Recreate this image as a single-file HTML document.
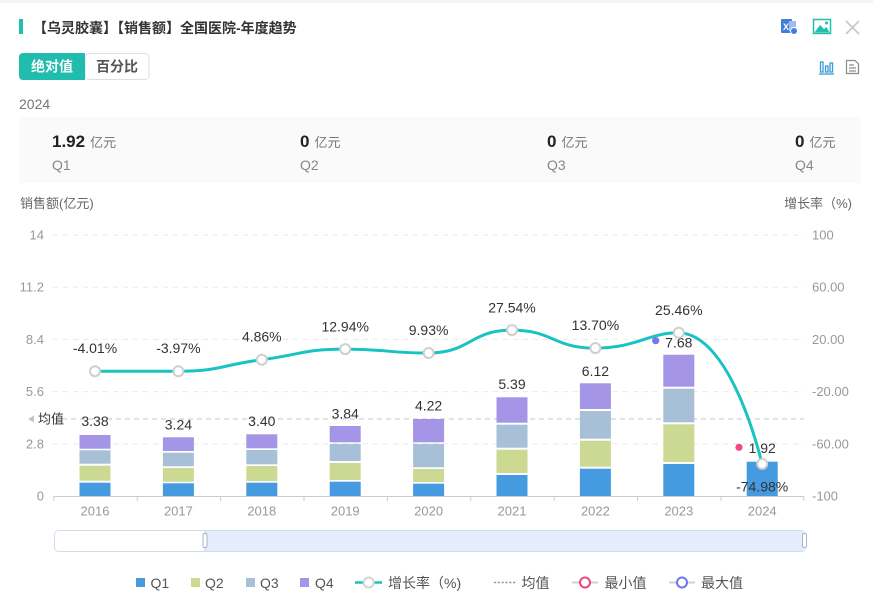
<!DOCTYPE html>
<html>
<head>
<meta charset="utf-8">
<style>
html,body{margin:0;padding:0;background:#fff;}
body{width:873px;height:607px;overflow:hidden;position:relative;font-family:"Liberation Sans","Noto Sans CJK SC",sans-serif;}
svg{position:absolute;left:0;top:0;}
text{font-family:"Liberation Sans","Noto Sans CJK SC",sans-serif;}
</style>
</head>
<body>
<svg width="873" height="607" viewBox="0 0 873 607" xmlns="http://www.w3.org/2000/svg">
  <!-- top strip -->
  <rect x="0" y="0" width="873" height="3" fill="#f4f5f7"/>
  <!-- title -->
  <rect x="19" y="19" width="4" height="15" fill="#20bfae"/>
  <text x="33" y="33" font-size="14" font-weight="bold" fill="#333">【乌灵胶囊】【销售额】全国医院-年度趋势</text>

  <!-- top-right icons -->
  <g>
    <rect x="781" y="19" width="11" height="14" rx="1" fill="#3f7fdc"/>
    <rect x="789" y="21" width="7" height="10" fill="#a9b8f0"/>
    <text x="783" y="30" font-size="9" font-weight="bold" fill="#fff">X</text>
    <circle cx="794" cy="31" r="3.5" fill="#3f7fdc" stroke="#fff" stroke-width="1"/>
  </g>
  <g>
    <rect x="813.5" y="19.5" width="17" height="14" fill="#fff" stroke="#20bfae" stroke-width="1.5"/>
    <path d="M814.5 32.5 L820 25 L824 29 L826.5 27 L829.5 32.5 Z" fill="#20bfae"/>
    <circle cx="826.5" cy="23" r="1.5" fill="#20bfae"/>
  </g>
  <path d="M846 21 L859 34 M859 21 L846 34" stroke="#c8c8c8" stroke-width="1.6"/>
  <g stroke="#3a9bd5" stroke-width="1.3" fill="none">
    <rect x="820.5" y="62" width="2.5" height="10"/>
    <rect x="825.5" y="66" width="2.5" height="6"/>
    <rect x="830" y="63" width="2.5" height="9"/>
    <line x1="819" y1="74" x2="834" y2="74"/>
  </g>
  <g stroke="#8a8a8a" stroke-width="1.2" fill="none">
    <path d="M846.5 60.5 H855 L858.5 64 V73.5 H846.5 Z"/>
    <line x1="849" y1="65" x2="854" y2="65"/>
    <line x1="849" y1="68" x2="856" y2="68"/>
    <line x1="849" y1="71" x2="856" y2="71"/>
  </g>

  <!-- toggle buttons -->
  <rect x="85" y="53.5" width="64" height="26" rx="4" fill="#fff" stroke="#dcdfe6" stroke-width="1"/>
  <path d="M23 53 H85 V80 H23 A4 4 0 0 1 19 76 V57 A4 4 0 0 1 23 53 Z" fill="#20bdaf"/>
  <text x="52" y="71.5" font-size="14" font-weight="bold" fill="#fff" text-anchor="middle">绝对值</text>
  <text x="117" y="71.5" font-size="14" font-weight="bold" fill="#555" text-anchor="middle">百分比</text>

  <text x="19" y="109" font-size="14" fill="#777">2024</text>

  <!-- stats box -->
  <rect x="19" y="117" width="842" height="66" fill="#fafafa"/>
  <g font-size="13" fill="#777">
    <text x="52" y="147"><tspan font-size="17" font-weight="bold" fill="#222">1.92</tspan><tspan dx="5">亿元</tspan></text>
    <text x="52" y="170" font-size="14" fill="#888">Q1</text>
    <text x="300" y="147"><tspan font-size="17" font-weight="bold" fill="#222">0</tspan><tspan dx="5">亿元</tspan></text>
    <text x="300" y="170" font-size="14" fill="#888">Q2</text>
    <text x="547" y="147"><tspan font-size="17" font-weight="bold" fill="#222">0</tspan><tspan dx="5">亿元</tspan></text>
    <text x="547" y="170" font-size="14" fill="#888">Q3</text>
    <text x="795" y="147"><tspan font-size="17" font-weight="bold" fill="#222">0</tspan><tspan dx="5">亿元</tspan></text>
    <text x="795" y="170" font-size="14" fill="#888">Q4</text>
  </g>

  <!-- axis names -->
  <text x="20" y="208" font-size="13" fill="#666">销售额(亿元)</text>
  <text x="852" y="208" font-size="13" fill="#666" text-anchor="end">增长率（%)</text>

  <!-- grid lines -->
  <g stroke="#e3ebee" stroke-width="1" stroke-dasharray="5,5">
    <line x1="53" y1="235" x2="804" y2="235"/>
    <line x1="53" y1="287.2" x2="804" y2="287.2"/>
    <line x1="53" y1="339.4" x2="804" y2="339.4"/>
    <line x1="53" y1="391.6" x2="804" y2="391.6"/>
    <line x1="53" y1="443.8" x2="804" y2="443.8"/>
  </g>

  <!-- left axis labels -->
  <g font-size="13" fill="#999" text-anchor="end">
    <text x="44" y="239.5">14</text>
    <text x="44" y="291.7">11.2</text>
    <text x="44" y="343.9">8.4</text>
    <text x="44" y="396.1">5.6</text>
    <text x="44" y="448.3">2.8</text>
    <text x="44" y="500.5">0</text>
  </g>
  <!-- right axis labels -->
  <g font-size="13" fill="#999">
    <text x="812" y="239.5">100</text>
    <text x="812" y="291.7">60.00</text>
    <text x="812" y="343.9">20.00</text>
    <text x="812" y="396.1">-20.00</text>
    <text x="812" y="448.3">-60.00</text>
    <text x="812" y="500.5">-100</text>
  </g>

  <!-- average line -->
  <line x1="53" y1="419" x2="804" y2="419" stroke="#c4c4c4" stroke-width="1" stroke-dasharray="5,4"/>
  <path d="M28 419 L34 415.5 L34 422.5 Z" fill="#c4c4c4"/>
  <text x="38" y="423.5" font-size="13" fill="#333">均值</text>

  <!-- bars -->
  <g>
    <!-- 2016 -->
    <rect x="79.5" y="435" width="31" height="13.7" fill="#a495e6"/>
    <rect x="79.5" y="450.3" width="31" height="13.4" fill="#a7c0d8"/>
    <rect x="79.5" y="465.7" width="31" height="15" fill="#ccd993"/>
    <rect x="79.5" y="482.7" width="31" height="13.3" fill="#459ae0"/>
    <!-- 2017 -->
    <rect x="162.9" y="437.3" width="31" height="13.7" fill="#a495e6"/>
    <rect x="162.9" y="452.7" width="31" height="13.6" fill="#a7c0d8"/>
    <rect x="162.9" y="468" width="31" height="13.7" fill="#ccd993"/>
    <rect x="162.9" y="483.3" width="31" height="12.7" fill="#459ae0"/>
    <!-- 2018 -->
    <rect x="246.3" y="434.3" width="31" height="14" fill="#a495e6"/>
    <rect x="246.3" y="450" width="31" height="14.3" fill="#a7c0d8"/>
    <rect x="246.3" y="466" width="31" height="15" fill="#ccd993"/>
    <rect x="246.3" y="482.7" width="31" height="13.3" fill="#459ae0"/>
    <!-- 2019 -->
    <rect x="329.7" y="426" width="31" height="16.3" fill="#a495e6"/>
    <rect x="329.7" y="444" width="31" height="17" fill="#a7c0d8"/>
    <rect x="329.7" y="463" width="31" height="17" fill="#ccd993"/>
    <rect x="329.7" y="481.7" width="31" height="14.3" fill="#459ae0"/>
    <!-- 2020 -->
    <rect x="413.1" y="419" width="31" height="23.3" fill="#a495e6"/>
    <rect x="413.1" y="444" width="31" height="23.3" fill="#a7c0d8"/>
    <rect x="413.1" y="469" width="31" height="13" fill="#ccd993"/>
    <rect x="413.1" y="483.7" width="31" height="12.3" fill="#459ae0"/>
    <!-- 2021 -->
    <rect x="496.5" y="397.3" width="31" height="25.4" fill="#a495e6"/>
    <rect x="496.5" y="424.7" width="31" height="23" fill="#a7c0d8"/>
    <rect x="496.5" y="449.7" width="31" height="23.3" fill="#ccd993"/>
    <rect x="496.5" y="475" width="31" height="21" fill="#459ae0"/>
    <!-- 2022 -->
    <rect x="579.9" y="383.3" width="31" height="25.7" fill="#a495e6"/>
    <rect x="579.9" y="411" width="31" height="27.7" fill="#a7c0d8"/>
    <rect x="579.9" y="440.7" width="31" height="26" fill="#ccd993"/>
    <rect x="579.9" y="468.7" width="31" height="27.3" fill="#459ae0"/>
    <!-- 2023 -->
    <rect x="663.3" y="354.7" width="31" height="32" fill="#a495e6"/>
    <rect x="663.3" y="388.7" width="31" height="33.6" fill="#a7c0d8"/>
    <rect x="663.3" y="424.3" width="31" height="37.7" fill="#ccd993"/>
    <rect x="663.3" y="464" width="31" height="32" fill="#459ae0"/>
    <!-- 2024 -->
    <rect x="746.7" y="461.7" width="31" height="34.3" fill="#459ae0"/>
  </g>

  <!-- x axis -->
  <line x1="53.3" y1="496.5" x2="804" y2="496.5" stroke="#ccc" stroke-width="1"/>
  <g stroke="#ccc" stroke-width="1">
    <line x1="53.8" y1="496" x2="53.8" y2="501"/>
    <line x1="137.2" y1="496" x2="137.2" y2="501"/>
    <line x1="220.6" y1="496" x2="220.6" y2="501"/>
    <line x1="304" y1="496" x2="304" y2="501"/>
    <line x1="387.4" y1="496" x2="387.4" y2="501"/>
    <line x1="470.8" y1="496" x2="470.8" y2="501"/>
    <line x1="554.2" y1="496" x2="554.2" y2="501"/>
    <line x1="637.6" y1="496" x2="637.6" y2="501"/>
    <line x1="721" y1="496" x2="721" y2="501"/>
    <line x1="803.8" y1="496" x2="803.8" y2="501"/>
  </g>
  <g font-size="13" fill="#999" text-anchor="middle">
    <text x="95" y="515.5">2016</text>
    <text x="178.4" y="515.5">2017</text>
    <text x="261.8" y="515.5">2018</text>
    <text x="345.2" y="515.5">2019</text>
    <text x="428.6" y="515.5">2020</text>
    <text x="512" y="515.5">2021</text>
    <text x="595.4" y="515.5">2022</text>
    <text x="678.8" y="515.5">2023</text>
    <text x="762.2" y="515.5">2024</text>
  </g>

  <!-- bar labels -->
  <g font-size="14" fill="#333" text-anchor="middle">
    <text x="95" y="426">3.38</text>
    <text x="178.4" y="429.3">3.24</text>
    <text x="261.8" y="426">3.40</text>
    <text x="345.2" y="418.3">3.84</text>
    <text x="428.6" y="410.7">4.22</text>
    <text x="512" y="389">5.39</text>
    <text x="595.4" y="376">6.12</text>
    <text x="678.8" y="347.3">7.68</text>
    <text x="762.2" y="453">1.92</text>
  </g>
  <!-- max/min dots -->
  <circle cx="655.7" cy="340.7" r="3.6" fill="#7477ee"/>
  <circle cx="739" cy="447.3" r="3.6" fill="#f5468a"/>

  <!-- growth line -->
  <path d="M95,371.2 C95,371.2 136.7,371.2 178,371.2 C220.2,371.2 219.95,365.26 262,359.7 C303.5,354.21 303.36,349.1 345,349.1 C386.35,349.1 387.22,353 428,353 C470.73,353 469.73,330.1 512,330.1 C553.23,330.1 553.37,348.1 595,348.1 C636.37,348.1 648.65,332.8 678,332.8 C732.15,332.8 762,463.9 762,463.9" fill="none" stroke="#1bc2c2" stroke-width="3" stroke-linejoin="round"/>
  <g fill="#fff" stroke="#cfcfcf" stroke-width="2">
    <circle cx="95" cy="371.2" r="5"/>
    <circle cx="178.4" cy="371.2" r="5"/>
    <circle cx="261.8" cy="359.7" r="5"/>
    <circle cx="345.2" cy="349.1" r="5"/>
    <circle cx="428.6" cy="353" r="5"/>
    <circle cx="512" cy="330.1" r="5"/>
    <circle cx="595.4" cy="348.1" r="5"/>
    <circle cx="678.8" cy="332.8" r="5"/>
    <circle cx="762.2" cy="463.9" r="5"/>
  </g>
  <g font-size="14" fill="#333" text-anchor="middle">
    <text x="95" y="353.2">-4.01%</text>
    <text x="178.4" y="353.2">-3.97%</text>
    <text x="261.8" y="341.7">4.86%</text>
    <text x="345.2" y="331.4">12.94%</text>
    <text x="428.6" y="335">9.93%</text>
    <text x="512" y="312.6">27.54%</text>
    <text x="595.4" y="330.1">13.70%</text>
    <text x="678.8" y="315">25.46%</text>
    <text x="762.2" y="491.7">-74.98%</text>
  </g>

  <!-- data zoom slider -->
  <rect x="54.5" y="530.5" width="751" height="21" rx="4" fill="#fff" stroke="#d3dcee" stroke-width="1"/>
  <rect x="205" y="531" width="600" height="20" fill="#e5edfc"/>
  <line x1="205" y1="531" x2="205" y2="551" stroke="#c5cfe6" stroke-width="1"/>
  <rect x="203" y="533.5" width="4" height="14" rx="1.5" fill="#fff" stroke="#aab4c8" stroke-width="1"/>
  <rect x="802.5" y="533.5" width="4" height="14" rx="1.5" fill="#fff" stroke="#aab4c8" stroke-width="1"/>

  <!-- legend -->
  <g font-size="14" fill="#555">
    <rect x="136" y="578" width="9" height="9" fill="#459ae0"/>
    <text x="150.5" y="588">Q1</text>
    <rect x="191" y="578" width="9" height="9" fill="#ccd993"/>
    <text x="205" y="588">Q2</text>
    <rect x="246" y="578" width="9" height="9" fill="#a7c0d8"/>
    <text x="260" y="588">Q3</text>
    <rect x="300" y="578" width="9" height="9" fill="#a495e6"/>
    <text x="315" y="588">Q4</text>

    <line x1="355" y1="582.5" x2="382" y2="582.5" stroke="#1bc2c2" stroke-width="2.5"/>
    <circle cx="368.7" cy="582.5" r="5" fill="#fff" stroke="#d4d4d4" stroke-width="2"/>
    <text x="388" y="588">增长率（%)</text>

    <line x1="494" y1="582.5" x2="516" y2="582.5" stroke="#999" stroke-width="1.5" stroke-dasharray="2.2,1.6"/>
    <text x="521.5" y="588">均值</text>

    <line x1="572" y1="582.5" x2="598" y2="582.5" stroke="#d0d0d0" stroke-width="2"/>
    <circle cx="585" cy="582.5" r="5" fill="#fff" stroke="#f0447f" stroke-width="2"/>
    <text x="604.5" y="588">最小值</text>

    <line x1="669" y1="582.5" x2="695" y2="582.5" stroke="#d0d0d0" stroke-width="2"/>
    <circle cx="682" cy="582.5" r="5" fill="#fff" stroke="#7074ee" stroke-width="2"/>
    <text x="701" y="588">最大值</text>
  </g>
</svg>
</body>
</html>
